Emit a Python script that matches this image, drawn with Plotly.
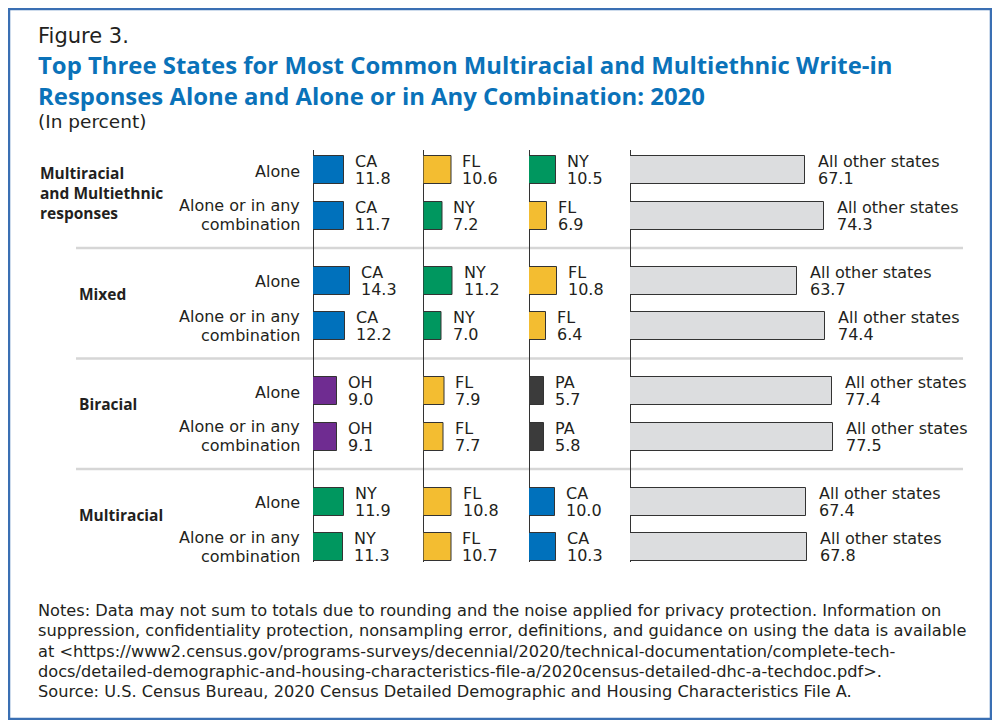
import plotly.graph_objects as go

# ---- data ----
groups = ["Multiracial<br>and Multiethnic<br>responses", "Mixed", "Biracial", "Multiracial"]
row_labels = [["Alone"], ["Alone or in any", "combination"]]

first_state = ["CA", "CA", "CA", "CA", "OH", "OH", "NY", "NY"]
first_value = [11.8, 11.7, 14.3, 12.2, 9.0, 9.1, 11.9, 11.3]
second_state = ["FL", "NY", "NY", "NY", "FL", "FL", "FL", "FL"]
second_value = [10.6, 7.2, 11.2, 7.0, 7.9, 7.7, 10.8, 10.7]
third_state = ["NY", "FL", "FL", "FL", "PA", "PA", "CA", "CA"]
third_value = [10.5, 6.9, 10.8, 6.4, 5.7, 5.8, 10.0, 10.3]
other_label = "All other states"
other_value = [67.1, 74.3, 63.7, 74.4, 77.4, 77.5, 67.4, 67.8]

notes = [
    "Notes: Data may not sum to totals due to rounding and the noise applied for privacy protection. Information on",
    "suppression, confidentiality protection, nonsampling error, definitions, and guidance on using the data is available",
    "at &lt;https://www2.census.gov/programs-surveys/decennial/2020/technical-documentation/complete-tech-",
    "docs/detailed-demographic-and-housing-characteristics-file-a/2020census-detailed-dhc-a-techdoc.pdf&gt;.",
]
source = "Source: U.S. Census Bureau, 2020 Census Detailed Demographic and Housing Characteristics File A."

state_colors = {"CA": "#0071bc", "FL": "#f3bd31", "NY": "#00975f",
                "OH": "#6f2c91", "PA": "#3b3b3b"}
other_color = "#dcdddf"

# ---- layout helpers (page pixels; page body has an 8px margin) ----
W, H = 984, 712
OFF = 8
SCALE = 2.615            # px per percent
col_x0 = [313, 423.5, 529, 630]
col_w = [100, 100, 100, 340]
y_top, y_bot = 150, 562
row_y = [170 + (i // 2) * 110.5 + (i % 2) * 45.5 for i in range(8)]

BODY = "DejaVu Sans, Verdana, sans-serif"
BOLD = "Open Sans, Arial, sans-serif"
TXT = "#231f20"

def px(x):
    return (x - OFF) / W

def py(y):
    return 1 - (y - OFF) / H

columns = [
    (first_state, first_value, [state_colors[s] for s in first_state]),
    (second_state, second_value, [state_colors[s] for s in second_state]),
    (third_state, third_value, [state_colors[s] for s in third_state]),
    ([other_label] * 8, other_value, [other_color] * 8),
]

fig = go.Figure()
annotations = []

def label(x, y, text, xref="paper", yref="y", anchor="left", size=16, family=BODY,
          color=TXT, xshift=0):
    annotations.append(dict(x=x, y=y, xref=xref, yref=yref, xanchor=anchor,
                            yanchor="middle", xshift=xshift, showarrow=False,
                            align=anchor, text=text,
                            font=dict(family=family, size=size, color=color)))

for k, (names, vals, cols) in enumerate(columns):
    ax = "x" if k == 0 else f"x{k + 1}"
    fig.add_trace(go.Bar(
        orientation="h", x=vals, y=row_y, width=28,
        marker=dict(color=cols, line=dict(color="#333333", width=1)),
        xaxis=ax, yaxis="y", hoverinfo="skip"))
    for n, v, y in zip(names, vals, row_y):
        sh = 9 if k < 3 else 11
        label(v, y - 8.5, n, xref=ax, xshift=sh)
        label(v, y + 8.5, f"{v:.1f}", xref=ax, xshift=sh)

# row and group labels
for i, y in enumerate(row_y):
    lines = row_labels[i % 2]
    if len(lines) == 1:
        label(px(302), y + 1, lines[0], anchor="right")
    else:
        label(px(302), y - 10, lines[0], anchor="right")
        label(px(302), y + 9, lines[1], anchor="right")
for g, name in enumerate(groups):
    yc = (row_y[2 * g] + row_y[2 * g + 1]) / 2
    if g == 0:
        label(px(38), yc, f"<b>{name}</b>", family=BOLD, size=15.5)
    else:
        label(px(77), yc - 9.5, f"<b>{name}</b>", family=BOLD, size=15.5)

# titles, notes
label(px(36), py(36), "Figure 3.", yref="paper", size=21)
label(px(36), py(80.5),
      "<b>Top Three States for Most Common Multiracial and Multiethnic Write-in<br>"
      "Responses Alone and Alone or in Any Combination: 2020</b>",
      yref="paper", family=BOLD, size=23.9, color="#0a72b9")
label(px(36), py(121.5), "(In percent)", yref="paper", size=18.5)
for j, t in enumerate(notes):
    label(px(36), py(610 + j * 20.5), t, yref="paper", size=16.2)
label(px(36), py(691), source, yref="paper", size=16.2)

# separators between groups and the frame
shapes = []
for g in range(3):
    ys = (row_y[2 * g + 1] + row_y[2 * g + 2]) / 2
    shapes.append(dict(type="line", xref="paper", yref="y", x0=px(76), x1=px(963),
                       y0=ys, y1=ys, line=dict(color="#d6d6d6", width=2.5), layer="below"))
shapes.append(dict(type="rect", xref="paper", yref="paper", x0=px(9), x1=px(991),
                   y0=py(719), y1=py(9), line=dict(color="#3a6fb3", width=2.5)))

layout = dict(
    width=W, height=H, margin=dict(l=0, r=0, t=0, b=0),
    paper_bgcolor="white", plot_bgcolor="white", showlegend=False,
    annotations=annotations, shapes=shapes, bargap=0,
    yaxis=dict(domain=[py(y_bot), py(y_top)], range=[y_bot, y_top], visible=False),
)
for k in range(4):
    key = "xaxis" if k == 0 else f"xaxis{k + 1}"
    layout[key] = dict(
        domain=[px(col_x0[k]), px(col_x0[k] + col_w[k])], range=[0, col_w[k] / SCALE],
        anchor="y", showgrid=False, showticklabels=False, ticks="", showline=False,
        zeroline=True, zerolinecolor="#333333", zerolinewidth=1, fixedrange=True)
fig.update_layout(**layout)

fig.write_html("out.html")
